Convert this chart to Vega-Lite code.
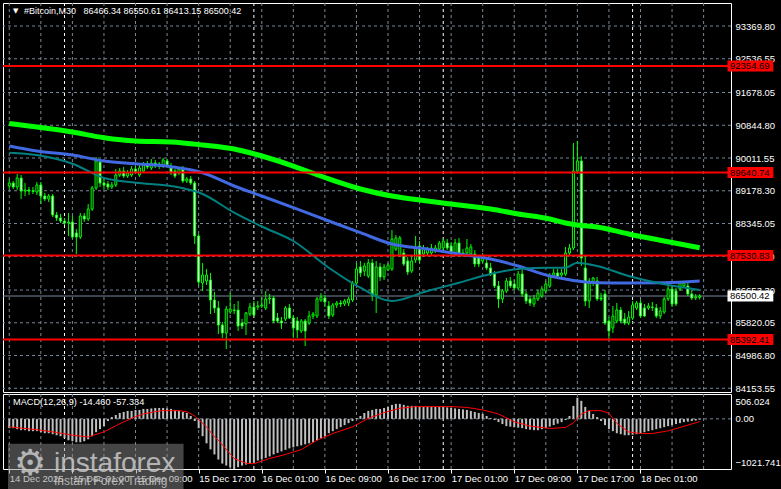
{
"$schema":"https://vega.github.io/schema/vega-lite/v6.json",
"background":"#000000",
"padding":{"left":2,"top":2,"right":0,"bottom":0},
"spacing":2,
"bounds":"flush",
"config":{"view":{"stroke":"#ffffff","strokeWidth":1},"axis":{"labelFont":"Liberation Sans","labelFontSize":9.5,"labelColor":"#ffffff","domain":false,"labelOverlap":false,"grid":false}},
"datasets":{
"bars":[
{"t":"2025-12-14T17:00","o":89300,"h":89478,"l":89223,"c":89376,"m":-190},
{"t":"2025-12-14T17:30","o":89376,"h":89427,"l":89223,"c":89274,"m":-190},
{"t":"2025-12-14T18:00","o":89274,"h":89605,"l":89198,"c":89503,"m":-210},
{"t":"2025-12-14T18:30","o":89503,"h":89579,"l":88969,"c":89172,"m":-231},
{"t":"2025-12-14T19:00","o":89172,"h":89376,"l":89045,"c":89198,"m":-231},
{"t":"2025-12-14T19:30","o":89198,"h":89274,"l":89071,"c":89172,"m":-251},
{"t":"2025-12-14T20:00","o":89172,"h":89274,"l":89096,"c":89160,"m":-251},
{"t":"2025-12-14T20:30","o":89147,"h":89401,"l":89071,"c":89325,"m":-251},
{"t":"2025-12-14T21:00","o":89325,"h":89401,"l":88842,"c":89045,"m":-272},
{"t":"2025-12-14T21:30","o":89045,"h":89122,"l":88918,"c":88969,"m":-293},
{"t":"2025-12-14T22:00","o":88969,"h":89096,"l":88893,"c":89045,"m":-293},
{"t":"2025-12-14T22:30","o":89045,"h":89096,"l":88511,"c":88562,"m":-313},
{"t":"2025-12-14T23:00","o":88562,"h":88638,"l":88409,"c":88486,"m":-334},
{"t":"2025-12-14T23:30","o":88486,"h":88587,"l":88358,"c":88409,"m":-354},
{"t":"2025-12-15T00:00","o":88409,"h":88486,"l":88307,"c":88358,"m":-396},
{"t":"2025-12-15T00:30","o":88358,"h":88613,"l":88028,"c":88384,"m":-437},
{"t":"2025-12-15T01:00","o":88384,"h":88536,"l":87951,"c":88002,"m":-457},
{"t":"2025-12-15T01:30","o":88104,"h":88206,"l":87570,"c":88002,"m":-478},
{"t":"2025-12-15T02:00","o":88002,"h":88613,"l":87951,"c":88536,"m":-478},
{"t":"2025-12-15T02:30","o":88536,"h":88613,"l":88384,"c":88460,"m":-457},
{"t":"2025-12-15T03:00","o":88460,"h":88842,"l":88409,"c":88714,"m":-416},
{"t":"2025-12-15T03:30","o":88714,"h":89300,"l":88664,"c":89249,"m":-354},
{"t":"2025-12-15T04:00","o":89249,"h":90037,"l":89198,"c":89936,"m":-272},
{"t":"2025-12-15T04:30","o":89910,"h":89986,"l":89274,"c":89376,"m":-210},
{"t":"2025-12-15T05:00","o":89376,"h":89478,"l":89223,"c":89325,"m":-148},
{"t":"2025-12-15T05:30","o":89350,"h":89427,"l":89198,"c":89274,"m":-45},
{"t":"2025-12-15T06:00","o":89274,"h":89401,"l":89223,"c":89325,"m":37},
{"t":"2025-12-15T06:30","o":89325,"h":89732,"l":89274,"c":89579,"m":78},
{"t":"2025-12-15T07:00","o":89579,"h":89758,"l":89529,"c":89681,"m":119},
{"t":"2025-12-15T07:30","o":89681,"h":89783,"l":89503,"c":89554,"m":140},
{"t":"2025-12-15T08:00","o":89554,"h":89707,"l":89503,"c":89630,"m":161},
{"t":"2025-12-15T08:30","o":89579,"h":89808,"l":89529,"c":89732,"m":161},
{"t":"2025-12-15T09:00","o":89732,"h":89808,"l":89605,"c":89656,"m":181},
{"t":"2025-12-15T09:30","o":89579,"h":89859,"l":89529,"c":89758,"m":181},
{"t":"2025-12-15T10:00","o":89681,"h":89910,"l":89630,"c":89859,"m":202},
{"t":"2025-12-15T10:30","o":89859,"h":89936,"l":89732,"c":89783,"m":202},
{"t":"2025-12-15T11:00","o":89758,"h":89986,"l":89707,"c":89885,"m":212},
{"t":"2025-12-15T11:30","o":89885,"h":89961,"l":89758,"c":89808,"m":222},
{"t":"2025-12-15T12:00","o":89808,"h":89910,"l":89732,"c":89859,"m":222},
{"t":"2025-12-15T12:30","o":89808,"h":90012,"l":89758,"c":89961,"m":222},
{"t":"2025-12-15T13:00","o":89936,"h":89986,"l":89783,"c":89834,"m":212},
{"t":"2025-12-15T13:30","o":89808,"h":89885,"l":89579,"c":89630,"m":202},
{"t":"2025-12-15T14:00","o":89681,"h":89732,"l":89503,"c":89554,"m":181},
{"t":"2025-12-15T14:30","o":89630,"h":89783,"l":89579,"c":89732,"m":161},
{"t":"2025-12-15T15:00","o":89732,"h":89808,"l":89376,"c":89427,"m":140},
{"t":"2025-12-15T15:30","o":89427,"h":89529,"l":89376,"c":89478,"m":119},
{"t":"2025-12-15T16:00","o":89478,"h":89554,"l":89325,"c":89376,"m":58},
{"t":"2025-12-15T16:30","o":89376,"h":89427,"l":87824,"c":88028,"m":-45},
{"t":"2025-12-15T17:00","o":88028,"h":88078,"l":86756,"c":86857,"m":-190},
{"t":"2025-12-15T17:30","o":86832,"h":87341,"l":86628,"c":87035,"m":-354},
{"t":"2025-12-15T18:00","o":86883,"h":87188,"l":86781,"c":87035,"m":-499},
{"t":"2025-12-15T18:30","o":86908,"h":87086,"l":86043,"c":86399,"m":-622},
{"t":"2025-12-15T19:00","o":86399,"h":86603,"l":86069,"c":86196,"m":-725},
{"t":"2025-12-15T19:30","o":86196,"h":86374,"l":85534,"c":85763,"m":-829},
{"t":"2025-12-15T20:00","o":85763,"h":85840,"l":85433,"c":85560,"m":-911},
{"t":"2025-12-15T20:30","o":85560,"h":86247,"l":85153,"c":86170,"m":-952},
{"t":"2025-12-15T21:00","o":86094,"h":86578,"l":86043,"c":86170,"m":-990},
{"t":"2025-12-15T21:30","o":86145,"h":86298,"l":86043,"c":86130,"m":-1021.741},
{"t":"2025-12-15T22:00","o":86145,"h":86374,"l":85611,"c":85738,"m":-985},
{"t":"2025-12-15T22:30","o":85814,"h":85916,"l":85662,"c":85738,"m":-952},
{"t":"2025-12-15T23:00","o":85789,"h":86094,"l":85509,"c":86069,"m":-931},
{"t":"2025-12-15T23:30","o":86043,"h":86323,"l":85992,"c":86221,"m":-911},
{"t":"2025-12-16T00:00","o":86221,"h":86374,"l":85967,"c":86018,"m":-890},
{"t":"2025-12-16T00:30","o":86221,"h":86374,"l":86145,"c":86247,"m":-849},
{"t":"2025-12-16T01:00","o":86247,"h":86476,"l":86196,"c":86272,"m":-829},
{"t":"2025-12-16T01:30","o":86196,"h":86628,"l":86145,"c":86425,"m":-797},
{"t":"2025-12-16T02:00","o":86425,"h":86552,"l":86298,"c":86450,"m":-766},
{"t":"2025-12-16T02:30","o":86450,"h":86501,"l":85814,"c":85865,"m":-725},
{"t":"2025-12-16T03:00","o":85941,"h":86069,"l":85814,"c":85865,"m":-694},
{"t":"2025-12-16T03:30","o":85865,"h":85967,"l":85662,"c":85814,"m":-663},
{"t":"2025-12-16T04:00","o":85916,"h":86247,"l":85865,"c":86196,"m":-632},
{"t":"2025-12-16T04:30","o":86196,"h":86298,"l":85916,"c":85941,"m":-602},
{"t":"2025-12-16T05:00","o":85941,"h":86018,"l":85433,"c":85687,"m":-581},
{"t":"2025-12-16T05:30","o":85865,"h":85967,"l":85433,"c":85636,"m":-560},
{"t":"2025-12-16T06:00","o":85611,"h":85916,"l":85560,"c":85865,"m":-540},
{"t":"2025-12-16T06:30","o":85865,"h":85916,"l":85229,"c":85611,"m":-519},
{"t":"2025-12-16T07:00","o":85814,"h":86120,"l":85763,"c":85992,"m":-499},
{"t":"2025-12-16T07:30","o":85992,"h":86094,"l":85916,"c":86043,"m":-478},
{"t":"2025-12-16T08:00","o":85992,"h":86476,"l":85941,"c":86425,"m":-437},
{"t":"2025-12-16T08:30","o":86399,"h":86578,"l":86349,"c":86476,"m":-396},
{"t":"2025-12-16T09:00","o":86450,"h":86527,"l":86221,"c":86349,"m":-354},
{"t":"2025-12-16T09:30","o":86247,"h":86374,"l":85916,"c":85992,"m":-293},
{"t":"2025-12-16T10:00","o":86018,"h":86323,"l":85967,"c":86272,"m":-251},
{"t":"2025-12-16T10:30","o":86272,"h":86374,"l":86196,"c":86323,"m":-210},
{"t":"2025-12-16T11:00","o":86323,"h":86399,"l":86221,"c":86298,"m":-169},
{"t":"2025-12-16T11:30","o":86298,"h":86425,"l":86247,"c":86374,"m":-128},
{"t":"2025-12-16T12:00","o":86323,"h":86476,"l":86247,"c":86425,"m":-87},
{"t":"2025-12-16T12:30","o":86399,"h":86883,"l":86349,"c":86832,"m":-45},
{"t":"2025-12-16T13:00","o":86832,"h":87341,"l":86781,"c":87188,"m":16},
{"t":"2025-12-16T13:30","o":87239,"h":87392,"l":86985,"c":87086,"m":58},
{"t":"2025-12-16T14:00","o":87137,"h":87341,"l":87010,"c":87264,"m":119},
{"t":"2025-12-16T14:30","o":87010,"h":87442,"l":86959,"c":87341,"m":161},
{"t":"2025-12-16T15:00","o":87341,"h":87442,"l":86374,"c":86527,"m":181},
{"t":"2025-12-16T15:30","o":86527,"h":87392,"l":86069,"c":87239,"m":202},
{"t":"2025-12-16T16:00","o":87239,"h":87341,"l":86883,"c":86985,"m":202},
{"t":"2025-12-16T16:30","o":86985,"h":87315,"l":86908,"c":87239,"m":222},
{"t":"2025-12-16T17:00","o":87163,"h":87341,"l":87137,"c":87290,"m":243},
{"t":"2025-12-16T17:30","o":87188,"h":88180,"l":87137,"c":87951,"m":284},
{"t":"2025-12-16T18:00","o":87697,"h":88053,"l":87646,"c":87977,"m":305},
{"t":"2025-12-16T18:30","o":87544,"h":88028,"l":87493,"c":87977,"m":305},
{"t":"2025-12-16T19:00","o":87595,"h":87697,"l":87264,"c":87315,"m":284},
{"t":"2025-12-16T19:30","o":87392,"h":87493,"l":87035,"c":87112,"m":264},
{"t":"2025-12-16T20:00","o":87137,"h":87519,"l":87086,"c":87392,"m":264},
{"t":"2025-12-16T20:30","o":87417,"h":88028,"l":87341,"c":87722,"m":264},
{"t":"2025-12-16T21:00","o":87773,"h":87900,"l":87341,"c":87417,"m":253},
{"t":"2025-12-16T21:30","o":87570,"h":87799,"l":87493,"c":87697,"m":243},
{"t":"2025-12-16T22:00","o":87595,"h":87748,"l":87544,"c":87697,"m":243},
{"t":"2025-12-16T22:30","o":87595,"h":87824,"l":87544,"c":87722,"m":243},
{"t":"2025-12-16T23:00","o":87646,"h":87799,"l":87595,"c":87722,"m":243},
{"t":"2025-12-16T23:30","o":87697,"h":87900,"l":87646,"c":87849,"m":243},
{"t":"2025-12-17T00:00","o":87722,"h":87977,"l":87671,"c":87900,"m":243},
{"t":"2025-12-17T00:30","o":87849,"h":87951,"l":87671,"c":87722,"m":233},
{"t":"2025-12-17T01:00","o":87773,"h":87875,"l":87519,"c":87595,"m":222},
{"t":"2025-12-17T01:30","o":87595,"h":87951,"l":87519,"c":87849,"m":212},
{"t":"2025-12-17T02:00","o":87849,"h":87977,"l":87493,"c":87595,"m":202},
{"t":"2025-12-17T02:30","o":87595,"h":87697,"l":87493,"c":87570,"m":192},
{"t":"2025-12-17T03:00","o":87595,"h":87951,"l":87544,"c":87722,"m":181},
{"t":"2025-12-17T03:30","o":87570,"h":87824,"l":87493,"c":87748,"m":161},
{"t":"2025-12-17T04:00","o":87570,"h":87671,"l":87239,"c":87315,"m":140},
{"t":"2025-12-17T04:30","o":87468,"h":87544,"l":87239,"c":87315,"m":119},
{"t":"2025-12-17T05:00","o":87392,"h":87595,"l":87341,"c":87519,"m":99},
{"t":"2025-12-17T05:30","o":87341,"h":87442,"l":87163,"c":87214,"m":58},
{"t":"2025-12-17T06:00","o":87214,"h":87341,"l":87010,"c":87061,"m":16},
{"t":"2025-12-17T06:30","o":87061,"h":87137,"l":86705,"c":86756,"m":-25},
{"t":"2025-12-17T07:00","o":86756,"h":86883,"l":86196,"c":86425,"m":-66},
{"t":"2025-12-17T07:30","o":86425,"h":86679,"l":86323,"c":86628,"m":-107},
{"t":"2025-12-17T08:00","o":86628,"h":86959,"l":86578,"c":86883,"m":-148},
{"t":"2025-12-17T08:30","o":86883,"h":86985,"l":86705,"c":86756,"m":-159},
{"t":"2025-12-17T09:00","o":86807,"h":86908,"l":86654,"c":86705,"m":-169},
{"t":"2025-12-17T09:30","o":86705,"h":87137,"l":86654,"c":87061,"m":-179},
{"t":"2025-12-17T10:00","o":87061,"h":87188,"l":86476,"c":86552,"m":-190},
{"t":"2025-12-17T10:30","o":86552,"h":86628,"l":86298,"c":86374,"m":-210},
{"t":"2025-12-17T11:00","o":86425,"h":86501,"l":86247,"c":86323,"m":-220},
{"t":"2025-12-17T11:30","o":86298,"h":86527,"l":86221,"c":86450,"m":-231},
{"t":"2025-12-17T12:00","o":86425,"h":86654,"l":86374,"c":86578,"m":-231},
{"t":"2025-12-17T12:30","o":86501,"h":86756,"l":86450,"c":86679,"m":-210},
{"t":"2025-12-17T13:00","o":86628,"h":86883,"l":86578,"c":86807,"m":-190},
{"t":"2025-12-17T13:30","o":86756,"h":87086,"l":86705,"c":87010,"m":-159},
{"t":"2025-12-17T14:00","o":87010,"h":87188,"l":86959,"c":87086,"m":-128},
{"t":"2025-12-17T14:30","o":87086,"h":87188,"l":86985,"c":87010,"m":-97},
{"t":"2025-12-17T15:00","o":87035,"h":87188,"l":86985,"c":87086,"m":-66},
{"t":"2025-12-17T15:30","o":87061,"h":87748,"l":87010,"c":87595,"m":-25},
{"t":"2025-12-17T16:00","o":87595,"h":87824,"l":87519,"c":87722,"m":58},
{"t":"2025-12-17T16:30","o":87722,"h":90394,"l":87671,"c":89681,"m":264},
{"t":"2025-12-17T17:00","o":89681,"h":90444,"l":89630,"c":89936,"m":430},
{"t":"2025-12-17T17:30","o":89936,"h":90063,"l":87264,"c":87468,"m":367},
{"t":"2025-12-17T18:00","o":87214,"h":87519,"l":86247,"c":86374,"m":243},
{"t":"2025-12-17T18:30","o":86374,"h":86959,"l":86196,"c":86883,"m":161},
{"t":"2025-12-17T19:00","o":86832,"h":86985,"l":86756,"c":86959,"m":99},
{"t":"2025-12-17T19:30","o":86883,"h":86985,"l":86374,"c":86425,"m":37},
{"t":"2025-12-17T20:00","o":86450,"h":86578,"l":86374,"c":86425,"m":-45},
{"t":"2025-12-17T20:30","o":86552,"h":86654,"l":85763,"c":85814,"m":-128},
{"t":"2025-12-17T21:00","o":85865,"h":85967,"l":85407,"c":85611,"m":-210},
{"t":"2025-12-17T21:30","o":85687,"h":86247,"l":85560,"c":85992,"m":-251},
{"t":"2025-12-17T22:00","o":85865,"h":86323,"l":85814,"c":86145,"m":-293},
{"t":"2025-12-17T22:30","o":86145,"h":86221,"l":85814,"c":85865,"m":-313},
{"t":"2025-12-17T23:00","o":85916,"h":86069,"l":85763,"c":85814,"m":-334},
{"t":"2025-12-17T23:30","o":85814,"h":86120,"l":85763,"c":85967,"m":-334},
{"t":"2025-12-18T00:00","o":85941,"h":86374,"l":85891,"c":86272,"m":-323},
{"t":"2025-12-18T00:30","o":86196,"h":86374,"l":86145,"c":86323,"m":-313},
{"t":"2025-12-18T01:00","o":86323,"h":86399,"l":85941,"c":85992,"m":-293},
{"t":"2025-12-18T01:30","o":86196,"h":86298,"l":85967,"c":85992,"m":-272},
{"t":"2025-12-18T02:00","o":86196,"h":86323,"l":86145,"c":86247,"m":-251},
{"t":"2025-12-18T02:30","o":86221,"h":86349,"l":86120,"c":86210,"m":-231},
{"t":"2025-12-18T03:00","o":86196,"h":86298,"l":85941,"c":85992,"m":-210},
{"t":"2025-12-18T03:30","o":85992,"h":86221,"l":85916,"c":86120,"m":-190},
{"t":"2025-12-18T04:00","o":86094,"h":86476,"l":86043,"c":86425,"m":-169},
{"t":"2025-12-18T04:30","o":86425,"h":86781,"l":86374,"c":86679,"m":-148},
{"t":"2025-12-18T05:00","o":86679,"h":86756,"l":86221,"c":86298,"m":-128},
{"t":"2025-12-18T05:30","o":86628,"h":86705,"l":86247,"c":86298,"m":-107},
{"t":"2025-12-18T06:00","o":86679,"h":86883,"l":86628,"c":86832,"m":-87},
{"t":"2025-12-18T06:30","o":86756,"h":86883,"l":86705,"c":86832,"m":-66},
{"t":"2025-12-18T07:00","o":86756,"h":86832,"l":86501,"c":86552,"m":-56},
{"t":"2025-12-18T07:30","o":86552,"h":86654,"l":86399,"c":86450,"m":-45},
{"t":"2025-12-18T08:00","o":86450,"h":86552,"l":86399,"c":86476,"m":-35},
{"t":"2025-12-18T08:30","o":86466.34,"h":86550.61,"l":86413.15,"c":86500.42,"m":-14.46}
],
"ma":[
{"t":"2025-12-14T17:00","g":90890,"b":90317,"k":90147},
{"t":"2025-12-14T20:30","g":90798,"b":90190,"k":90088},
{"t":"2025-12-15T01:00","g":90673,"b":90088,"k":89867},
{"t":"2025-12-15T05:00","g":90528,"b":89936,"k":89503},
{"t":"2025-12-15T09:00","g":90444,"b":89867,"k":89384},
{"t":"2025-12-15T13:30","g":90419,"b":89791,"k":89300},
{"t":"2025-12-15T17:30","g":90343,"b":89638,"k":89096},
{"t":"2025-12-15T21:30","g":90241,"b":89300,"k":88621},
{"t":"2025-12-16T01:00","g":90063,"b":89045,"k":88269},
{"t":"2025-12-16T05:00","g":89808,"b":88748,"k":87900},
{"t":"2025-12-16T09:30","g":89478,"b":88409,"k":87221},
{"t":"2025-12-16T13:30","g":89223,"b":88112,"k":86712},
{"t":"2025-12-16T17:30","g":89045,"b":87824,"k":86374},
{"t":"2025-12-16T22:00","g":88918,"b":87697,"k":86628},
{"t":"2025-12-17T02:00","g":88816,"b":87570,"k":86840},
{"t":"2025-12-17T06:00","g":88714,"b":87442,"k":87061},
{"t":"2025-12-17T09:30","g":88587,"b":87264,"k":87188},
{"t":"2025-12-17T13:30","g":88460,"b":87010,"k":87221},
{"t":"2025-12-17T15:30","g":88358,"b":86934,"k":87221},
{"t":"2025-12-17T17:00","g":88307,"b":86883,"k":87349},
{"t":"2025-12-17T19:30","g":88257,"b":86840,"k":87264},
{"t":"2025-12-17T23:30","g":88078,"b":86832,"k":87010},
{"t":"2025-12-18T04:00","g":87900,"b":86840,"k":86799},
{"t":"2025-12-18T08:30","g":87730,"b":86883,"k":86654}
],
"sig":[
{"t":"2025-12-14T17:00","s":-163},{"t":"2025-12-14T21:00","s":-231},{"t":"2025-12-14T23:00","s":-278},{"t":"2025-12-15T01:00","s":-334},{"t":"2025-12-15T03:00","s":-369},{"t":"2025-12-15T05:00","s":-266},{"t":"2025-12-15T06:30","s":-142},{"t":"2025-12-15T07:30","s":-60},{"t":"2025-12-15T09:00","s":43},{"t":"2025-12-15T10:00","s":99},{"t":"2025-12-15T11:30","s":146},{"t":"2025-12-15T12:30","s":167},{"t":"2025-12-15T14:30","s":167},{"t":"2025-12-15T15:30","s":146},{"t":"2025-12-15T16:30","s":58},{"t":"2025-12-15T18:00","s":-163},{"t":"2025-12-15T19:00","s":-369},{"t":"2025-12-15T19:30","s":-437},{"t":"2025-12-15T21:30","s":-808},{"t":"2025-12-15T23:00","s":-904},{"t":"2025-12-16T00:00","s":-915},{"t":"2025-12-16T02:00","s":-808},{"t":"2025-12-16T04:00","s":-725},{"t":"2025-12-16T06:00","s":-628},{"t":"2025-12-16T08:00","s":-437},{"t":"2025-12-16T10:00","s":-299},{"t":"2025-12-16T12:30","s":-163},{"t":"2025-12-16T14:30","s":10},{"t":"2025-12-16T16:30","s":126},{"t":"2025-12-16T18:30","s":216},{"t":"2025-12-16T20:30","s":249},{"t":"2025-12-17T01:00","s":249},{"t":"2025-12-17T03:00","s":233},{"t":"2025-12-17T05:00","s":181},{"t":"2025-12-17T07:00","s":99},{"t":"2025-12-17T09:00","s":-60},{"t":"2025-12-17T11:00","s":-148},{"t":"2025-12-17T13:30","s":-196},{"t":"2025-12-17T15:30","s":-175},{"t":"2025-12-17T16:30","s":-80},{"t":"2025-12-17T17:30","s":99},{"t":"2025-12-17T18:30","s":167},{"t":"2025-12-17T20:00","s":167},{"t":"2025-12-17T21:00","s":113},{"t":"2025-12-17T22:00","s":-93},{"t":"2025-12-17T23:30","s":-266},{"t":"2025-12-18T01:00","s":-299},{"t":"2025-12-18T02:30","s":-299},{"t":"2025-12-18T04:30","s":-245},{"t":"2025-12-18T06:00","s":-175},{"t":"2025-12-18T08:30","s":-57.334}
],
"vg":[{"t":"2025-12-14T17:00"},{"t":"2025-12-14T21:00"},{"t":"2025-12-15T00:00"},{"t":"2025-12-15T01:00"},{"t":"2025-12-15T05:00"},{"t":"2025-12-15T09:00"},{"t":"2025-12-15T13:00"},{"t":"2025-12-15T17:00"},{"t":"2025-12-15T21:00"},{"t":"2025-12-16T00:00"},{"t":"2025-12-16T01:00"},{"t":"2025-12-16T05:00"},{"t":"2025-12-16T09:00"},{"t":"2025-12-16T13:00"},{"t":"2025-12-16T17:00"},{"t":"2025-12-16T21:00"},{"t":"2025-12-17T00:00"},{"t":"2025-12-17T01:00"},{"t":"2025-12-17T05:00"},{"t":"2025-12-17T09:00"},{"t":"2025-12-17T13:00"},{"t":"2025-12-17T17:00"},{"t":"2025-12-17T21:00"},{"t":"2025-12-18T00:00"},{"t":"2025-12-18T01:00"},{"t":"2025-12-18T05:00"},{"t":"2025-12-18T09:00"}],
"hg":[{"p":93369.8},{"p":92536.55},{"p":91678.05},{"p":90844.8},{"p":90011.55},{"p":89178.3},{"p":88345.05},{"p":87511.8},{"p":86653.3},{"p":85820.05},{"p":84986.8},{"p":84153.55}],
"lv":[{"p":92354.69},{"p":89640.74},{"p":87530.83},{"p":85392.41}],
"bid":[{"p":86500.42}],
"title":[{"txt":"#Bitcoin,M30\u00a0\u00a0\u00a086466.34 86550.61 86413.15 86500.42"}],
"mtitle":[{"txt":"MACD(12,26,9) -14.460 -57.334"}],
"wm":[{"a":"instaforex","b":"Instant Forex Trading","g":"⚙"}]
},
"vconcat":[
{
"width":728,"height":389,
"layer":[
{"data":{"name":"vg"},"mark":{"type":"rule","strokeWidth":1,"strokeDash":[3,3],"clip":true},
"encoding":{
"x":{"field":"t","type":"temporal","scale":{"domain":[{"year":2025,"month":12,"date":14,"hours":16,"minutes":50,"seconds":15},{"year":2025,"month":12,"date":18,"hours":11,"minutes":50,"seconds":15}]},"axis":null},
"color":{"condition":{"test":"hours(datum.t)==0","value":"#ffffff"},"value":"#778899"}}},
{"data":{"name":"hg"},"mark":{"type":"rule","color":"#778899","strokeWidth":1,"strokeDash":[3,3],"clip":true},
"encoding":{
"y":{"field":"p","type":"quantitative","scale":{"domain":[84059,93955],"nice":false,"zero":false},
"axis":{"orient":"right","title":null,"values":[93369.8,92536.55,91678.05,90844.8,90011.55,89178.3,88345.05,87511.8,86653.3,85820.05,84986.8,84153.55],"tickCount":100,"format":".2f","grid":false,"ticks":false,"labelPadding":4,"labelOverlap":false,"labelBound":false,"labelFlush":false}}}},
{"data":{"name":"bid"},"mark":{"type":"rule","color":"#778899","strokeWidth":1,"clip":true},"encoding":{"y":{"field":"p","type":"quantitative"}}},
{"data":{"name":"bars"},"mark":{"type":"rule","color":"#00ff00","strokeWidth":1,"clip":true},
"encoding":{"x":{"field":"t","type":"temporal"},"y":{"field":"l","type":"quantitative"},"y2":{"field":"h"}}},
{"data":{"name":"bars"},"mark":{"type":"bar","width":2,"stroke":"#00ff00","strokeWidth":1,"clip":true},
"encoding":{"x":{"field":"t","type":"temporal"},"y":{"field":"o","type":"quantitative"},"y2":{"field":"c"},
"fill":{"condition":{"test":"datum.c < datum.o","value":"#ffffff"},"value":"#000000"}}},
{"data":{"name":"ma"},"mark":{"type":"line","color":"#00ff00","strokeWidth":5,"interpolate":"monotone","strokeJoin":"round","clip":true},"encoding":{"x":{"field":"t","type":"temporal"},"y":{"field":"g","type":"quantitative"}}},
{"data":{"name":"ma"},"mark":{"type":"line","color":"#4169e1","strokeWidth":3,"interpolate":"monotone","strokeJoin":"round","clip":true},"encoding":{"x":{"field":"t","type":"temporal"},"y":{"field":"b","type":"quantitative"}}},
{"data":{"name":"ma"},"mark":{"type":"line","color":"#008080","strokeWidth":2,"interpolate":"monotone","strokeJoin":"round","clip":true},"encoding":{"x":{"field":"t","type":"temporal"},"y":{"field":"k","type":"quantitative"}}},
{"data":{"name":"lv"},"mark":{"type":"rule","color":"#ff0000","strokeWidth":2,"clip":true},"encoding":{"y":{"field":"p","type":"quantitative"}}},
{"data":{"name":"lv"},"mark":{"type":"rect","color":"#ff0000","xOffset":1.5,"yOffset":-5.5,"y2Offset":5.5},
"encoding":{"x":{"datum":{"year":2025,"month":12,"date":18,"hours":11,"minutes":50,"seconds":15},"type":"temporal"},"x2":{"datum":{"year":2025,"month":12,"date":18,"hours":17,"minutes":50,"seconds":15}},"y":{"field":"p","type":"quantitative"},"y2":{"field":"p"}}},
{"data":{"name":"lv"},"mark":{"type":"text","align":"left","baseline":"middle","dx":4,"color":"#000000","font":"Liberation Sans","fontSize":9.5},
"encoding":{"x":{"datum":{"year":2025,"month":12,"date":18,"hours":11,"minutes":50,"seconds":15},"type":"temporal"},"y":{"field":"p","type":"quantitative"},"text":{"field":"p","format":".2f"}}},
{"data":{"name":"bid"},"mark":{"type":"rect","color":"#ffffff","xOffset":1.5,"yOffset":-5.5,"y2Offset":5.5},
"encoding":{"x":{"datum":{"year":2025,"month":12,"date":18,"hours":11,"minutes":50,"seconds":15},"type":"temporal"},"x2":{"datum":{"year":2025,"month":12,"date":18,"hours":17,"minutes":50,"seconds":15}},"y":{"field":"p","type":"quantitative"},"y2":{"field":"p"}}},
{"data":{"name":"bid"},"mark":{"type":"text","align":"left","baseline":"middle","dx":4,"color":"#000000","font":"Liberation Sans","fontSize":9.5},
"encoding":{"x":{"datum":{"year":2025,"month":12,"date":18,"hours":11,"minutes":50,"seconds":15},"type":"temporal"},"y":{"field":"p","type":"quantitative"},"text":{"field":"p","format":".2f"}}},
{"data":{"name":"title"},"mark":{"type":"text","align":"left","baseline":"middle","dx":16,"color":"#ffffff","font":"Liberation Sans","fontSize":9},
"encoding":{"x":{"datum":{"year":2025,"month":12,"date":14,"hours":16,"minutes":50,"seconds":15},"type":"temporal"},"y":{"datum":93739,"type":"quantitative"},"text":{"field":"txt"}}},
{"data":{"name":"title"},"mark":{"type":"text","align":"left","baseline":"middle","dx":5,"color":"#ffffff","font":"DejaVu Sans","fontSize":7,"text":"▼"},
"encoding":{"x":{"datum":{"year":2025,"month":12,"date":14,"hours":16,"minutes":50,"seconds":15},"type":"temporal"},"y":{"datum":93739,"type":"quantitative"}}}
]
},
{
"width":728,"height":75,
"layer":[
{"data":{"name":"vg"},"mark":{"type":"rule","strokeWidth":1,"strokeDash":[3,3],"clip":true},
"encoding":{
"x":{"field":"t","type":"temporal","scale":{"domain":[{"year":2025,"month":12,"date":14,"hours":16,"minutes":50,"seconds":15},{"year":2025,"month":12,"date":18,"hours":11,"minutes":50,"seconds":15}]},
"axis":{"orient":"bottom","title":null,"domain":false,"grid":false,"ticks":true,"tickSize":4,"tickColor":"#ffffff","tickCount":100,
"labelAlign":"left","labelBaseline":"top","labelPadding":0,"labelFlush":false,"labelOverlap":false,"labelBound":false,
"labelExpr":"date(datum.value) == 14 ? '14 Dec 2025' : timeFormat(datum.value, '%d %b %H:%M')",
"values":[{"year":2025,"month":12,"date":14,"hours":17},{"year":2025,"month":12,"date":15,"hours":1},{"year":2025,"month":12,"date":15,"hours":9},{"year":2025,"month":12,"date":15,"hours":17},{"year":2025,"month":12,"date":16,"hours":1},{"year":2025,"month":12,"date":16,"hours":9},{"year":2025,"month":12,"date":16,"hours":17},{"year":2025,"month":12,"date":17,"hours":1},{"year":2025,"month":12,"date":17,"hours":9},{"year":2025,"month":12,"date":17,"hours":17},{"year":2025,"month":12,"date":18,"hours":1}]}},
"color":{"condition":{"test":"hours(datum.t)==0","value":"#ffffff"},"value":"#778899"}}},
{"data":{"values":[{"z":0}]},"mark":{"type":"rule","color":"#778899","strokeWidth":1,"strokeDash":[3,3],"clip":true},
"encoding":{"y":{"field":"z","type":"quantitative","scale":{"domain":[-1021.741,506.024],"nice":false,"zero":false},
"axis":{"orient":"right","title":null,"values":[506.024,0,-1021.741],"tickCount":100,"labelExpr":"datum.value == 0 ? '0.00' : format(datum.value, '.3f')","labelFlush":true,"labelFlushOffset":-2,"labelOverlap":false,"labelBound":false,"ticks":false,"labelPadding":4,"grid":false}}}},
{"data":{"name":"bars"},"mark":{"type":"bar","width":2,"color":"#c0c0c0","clip":true},
"encoding":{"x":{"field":"t","type":"temporal"},"y":{"field":"m","type":"quantitative"},"y2":{"datum":0}}},
{"data":{"name":"sig"},"mark":{"type":"line","color":"#ff0000","strokeWidth":1,"strokeJoin":"round","clip":true},"encoding":{"x":{"field":"t","type":"temporal"},"y":{"field":"s","type":"quantitative"}}},
{"data":{"name":"mtitle"},"mark":{"type":"text","align":"left","baseline":"middle","dx":5,"color":"#ffffff","font":"Liberation Sans","fontSize":9.2},
"encoding":{"x":{"datum":{"year":2025,"month":12,"date":14,"hours":16,"minutes":50,"seconds":15},"type":"temporal"},"y":{"datum":349,"type":"quantitative"},"text":{"field":"txt"}}},
{"data":{"name":"wm"},"mark":{"type":"rect","color":"#8a8a8a","opacity":0.5},
"encoding":{"x":{"datum":{"year":2025,"month":12,"date":14,"hours":16,"minutes":50,"seconds":15},"type":"temporal"},"x2":{"datum":{"year":2025,"month":12,"date":15,"hours":15,"minutes":5,"seconds":15}},"y":{"datum":-506,"type":"quantitative"},"y2":{"datum":-1443}}},
{"data":{"name":"wm"},"mark":{"type":"text","align":"left","baseline":"alphabetic","dx":46,"color":"#c8c8c8","opacity":0.85,"font":"Liberation Sans","fontSize":28},
"encoding":{"x":{"datum":{"year":2025,"month":12,"date":14,"hours":16,"minutes":50,"seconds":15},"type":"temporal"},"y":{"datum":-1077,"type":"quantitative"},"text":{"field":"a"}}},
{"data":{"name":"wm"},"mark":{"type":"text","align":"left","baseline":"alphabetic","dx":46,"color":"#c8c8c8","opacity":0.85,"font":"Liberation Sans","fontSize":12},
"encoding":{"x":{"datum":{"year":2025,"month":12,"date":14,"hours":16,"minutes":50,"seconds":15},"type":"temporal"},"y":{"datum":-1340,"type":"quantitative"},"text":{"field":"b"}}},
{"data":{"name":"wm"},"mark":{"type":"text","align":"left","baseline":"middle","dx":6,"color":"#c8c8c8","opacity":0.85,"font":"DejaVu Sans","fontSize":36},
"encoding":{"x":{"datum":{"year":2025,"month":12,"date":14,"hours":16,"minutes":50,"seconds":15},"type":"temporal"},"y":{"datum":-930,"type":"quantitative"},"text":{"field":"g"}}}
]
}
]
}
